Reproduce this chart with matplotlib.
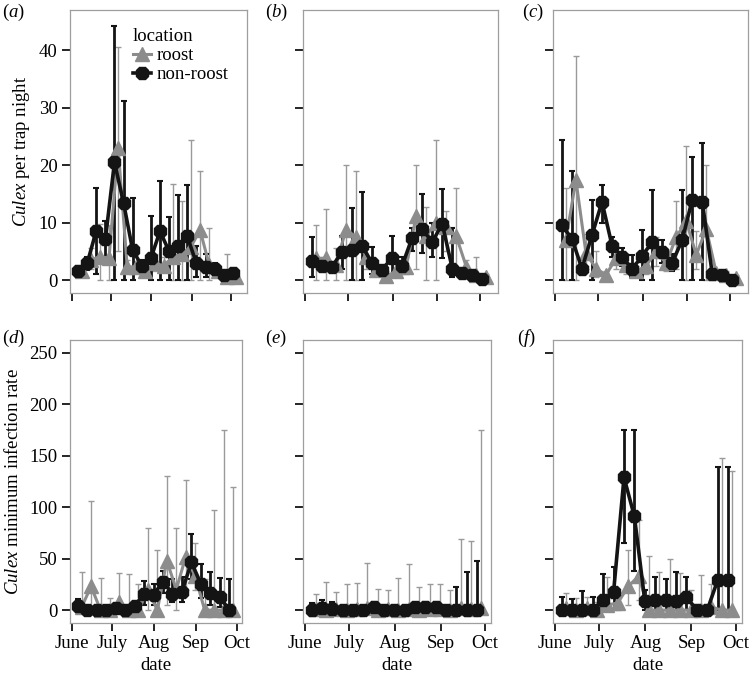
import numpy as np
import matplotlib
matplotlib.use('Agg')
import matplotlib.pyplot as plt

plt.rcParams['font.family'] = ['Liberation Serif', 'DejaVu Serif']
plt.rcParams['mathtext.fontset'] = 'custom'
plt.rcParams['mathtext.rm'] = 'Liberation Serif'
plt.rcParams['mathtext.it'] = 'Liberation Serif:italic'

# sampling dates, days since 1 June
day_top = [6, 13, 20, 27, 34, 41, 48, 55, 62, 69, 76, 83, 90, 97, 104, 111, 118, 125]
day_bot = [6, 13, 20, 27, 34, 41, 48, 55, 62, 69, 76, 83, 90, 97, 104, 111, 118]

month_day = [0, 30, 61, 92, 122]
month_lab = ['June', 'July', 'Aug', 'Sep', 'Oct']

# (a) abundance
nr_a    = [1.6, 2.9, 8.6, 7.1, 20.5, 13.4, 5.2, 2.5, 3.8, 8.5, 5.0, 6.0, 7.6, 2.9, 2.3, 1.9, 0.9, 1.3]
nr_a_hi = [2.5, 4.0, 16.0, 10.2, 44.3, 31.2, 14.2, 3.5, 11.2, 17.3, 11.0, 14.8, 16.6, 6.0, 4.5, 3.0, 1.5, 2.0]
nr_a_lo = [1.0, 1.8, 1.0, 4.0, 0.0, 0.0, 0.0, 1.5, 0.0, 0.0, 0.0, 0.0, 0.0, 0.5, 0.5, 0.8, 0.3, 0.5]
r_a     = [1.5, 3.5, 4.1, 3.8, 23.0, 2.3, 2.3, 1.5, 2.9, 2.5, 4.0, 4.5, 5.8, 8.7, 2.7, 1.5, 0.6, 0.5]
r_a_hi  = [2.5, 5.5, 9.8, 9.5, 40.6, 3.5, 3.2, 2.3, 4.5, 4.0, 16.7, 13.8, 24.4, 18.9, 9.0, 2.5, 4.5, 1.0]
r_a_lo  = [0.8, 2.0, 0.0, 0.0, 5.0, 1.5, 1.5, 0.8, 1.5, 1.5, 0.0, 0.0, 0.0, 0.0, 0.0, 0.8, 0.0, 0.0]

# (b)
nr_b    = [3.4, 2.5, 2.3, 4.9, 5.3, 6.0, 2.9, 1.8, 3.9, 2.5, 7.4, 8.9, 6.6, 9.8, 2.0, 1.2, 0.8, 0.1]
nr_b_hi = [7.5, 3.5, 3.0, 7.7, 12.5, 15.3, 5.7, 2.5, 7.6, 4.0, 9.0, 15.0, 10.0, 15.8, 9.0, 2.0, 1.5, 0.5]
nr_b_lo = [0.5, 1.5, 1.5, 2.0, 0.0, 0.0, 1.0, 1.0, 1.0, 1.0, 5.0, 4.7, 4.0, 3.8, 0.5, 0.5, 0.3, 0.0]
r_b     = [3.8, 3.8, 2.6, 8.8, 7.5, 4.1, 1.8, 0.7, 1.5, 2.3, 11.2, 7.7, 10.0, 9.2, 7.6, 2.3, 0.9, 0.5]
r_b_hi  = [9.6, 12.3, 5.5, 20.0, 18.9, 6.0, 2.5, 1.5, 3.0, 4.0, 20.0, 12.8, 24.3, 12.0, 16.1, 3.5, 4.0, 1.0]
r_b_lo  = [0.0, 0.0, 0.0, 0.0, 0.0, 2.0, 0.8, 0.2, 0.5, 1.0, 2.0, 0.0, 0.0, 5.0, 1.0, 1.0, 0.0, 0.0]

# (c)
nr_c    = [9.5, 7.2, 2.0, 7.8, 13.6, 6.0, 4.1, 1.9, 4.2, 6.6, 4.9, 3.0, 7.0, 14.0, 13.6, 1.0, 0.9, 0.0]
nr_c_hi = [24.4, 19.0, 3.0, 13.9, 16.5, 7.5, 5.5, 4.3, 8.8, 15.6, 7.0, 4.5, 15.6, 21.5, 23.8, 2.0, 1.5, 0.5]
nr_c_lo = [0.0, 0.0, 1.0, 0.0, 10.0, 4.0, 2.5, 0.5, 0.0, 0.0, 3.0, 1.5, 0.0, 0.0, 0.0, 0.5, 0.5, 0.0]
r_c     = [7.0, 17.4, 4.7, 2.0, 0.9, 3.8, 2.6, 1.5, 2.5, 5.0, 2.9, 7.5, 10.2, 4.4, 8.9, 1.2, 0.9, 0.3]
r_c_hi  = [16.0, 39.0, 8.0, 5.0, 1.5, 6.0, 4.5, 2.5, 4.0, 7.5, 5.0, 13.8, 23.3, 8.5, 20.0, 2.0, 1.5, 0.8]
r_c_lo  = [0.0, 0.0, 2.0, 0.5, 0.3, 2.0, 1.0, 0.5, 1.0, 2.5, 1.5, 2.0, 0.0, 2.0, 0.0, 0.5, 0.3, 0.0]

# (d) minimum infection rate
nr_d    = [4, 0, 0, 0, 1.6, 0, 4, 16, 15, 27.7, 16, 18, 46.6, 25, 17, 13, 0]
nr_d_hi = [11, 3, 3, 3, 6, 3, 8, 28, 25, 38, 30, 32, 74, 45, 37, 31, 30]
nr_d_lo = [0, 0, 0, 0, 0, 0, 0, 5, 5, 17, 8, 8, 30, 12, 5, 3, 0]
r_d     = [3, 23, 0, 0, 8, 0, 0, 20, 0, 48, 20, 52, 33, 0, 0, 0, 0]
r_d_hi  = [37, 106, 31, 12, 36, 35, 25, 80, 58, 130, 80, 126, 65, 30, 97, 175, 120]
r_d_lo  = [0, 0, 0, 0, 0, 0, 0, 0, 0, 5, 0, 20, 20, 0, 0, 0, 0]

# (e)
nr_e    = [0, 2, 1, 0, 0, 0, 3, 0, 0, 0, 3, 3, 3, 0, 0, 0, 0]
nr_e_hi = [7, 10, 8, 4, 4, 4, 8, 4, 4, 4, 4, 8, 8, 4, 22, 37, 48]
nr_e_lo = [0, 0, 0, 0, 0, 0, 0, 0, 0, 0, 0, 0, 0, 0, 0, 0, 0]
r_e     = [1, 0, 1, 0, 1, 2, 0, 1, 0, 1, 0, 1, 1, 0, 2, 1, 2]
r_e_hi  = [16, 27, 18, 25, 26, 46, 21, 20, 31, 45, 22, 25, 25, 20, 69, 67, 175]
r_e_lo  = [0, 0, 0, 0, 0, 0, 0, 0, 0, 0, 0, 0, 0, 0, 0, 0, 0]

# (f)
nr_f    = [0, 0, 0, 0, 10, 18, 129, 91, 9, 10, 10, 9, 13, 0, 0, 29, 29]
nr_f_hi = [13, 11, 19, 13, 35, 42, 175, 175, 20, 32, 30, 37, 32, 5, 5, 139, 139]
nr_f_lo = [0, 0, 0, 0, 0, 0, 65, 38, 0, 0, 0, 0, 0, 0, 0, 0, 0]
r_f     = [2, 0, 2, 0, 5, 7, 23, 33, 0, 0, 0, 0, 0, 0, 3, 0, 0]
r_f_hi  = [17, 12, 13, 8, 32, 15, 58, 88, 53, 37, 50, 36, 20, 34, 25, 148, 135]
r_f_lo  = [0, 0, 0, 0, 0, 0, 5, 10, 0, 0, 0, 0, 0, 0, 0, 0, 0]

W, H = 752, 678
fig = plt.figure(figsize=(W / 100, H / 100), dpi=100)

def rect(l, t, r, b):
    return [l / W, 1 - b / H, (r - l) / W, (b - t) / H]

panels = [
    ('a', rect(70, 10, 247, 293), day_top, r_a, r_a_lo, r_a_hi, nr_a, nr_a_lo, nr_a_hi, 0),
    ('b', rect(303, 10, 498, 293), day_top, r_b, r_b_lo, r_b_hi, nr_b, nr_b_lo, nr_b_hi, 0),
    ('c', rect(553, 10, 748, 293), day_top, r_c, r_c_lo, r_c_hi, nr_c, nr_c_lo, nr_c_hi, 0),
    ('d', rect(70, 340, 242, 623), day_bot, r_d, r_d_lo, r_d_hi, nr_d, nr_d_lo, nr_d_hi, 1),
    ('e', rect(303, 340, 491, 623), day_bot, r_e, r_e_lo, r_e_hi, nr_e, nr_e_lo, nr_e_hi, 1),
    ('f', rect(553, 340, 742, 623), day_bot, r_f, r_f_lo, r_f_hi, nr_f, nr_f_lo, nr_f_hi, 1),
]

gray = '#8c8c8c'
black = '#141414'
fs = 13.5

for tag, pos, day, r, rlo, rhi, nr, nrlo, nrhi, row in panels:
    ax = fig.add_axes(pos)
    d = np.array(day, float)
    r = np.array(r, float); nr = np.array(nr, float)
    rlo = np.minimum(np.array(rlo, float), r); rhi = np.maximum(np.array(rhi, float), r)
    nrlo = np.minimum(np.array(nrlo, float), nr); nrhi = np.maximum(np.array(nrhi, float), nr)

    ax.errorbar(d + 1.4, r, yerr=[r - rlo, rhi - r], fmt='none', ecolor='#9a9a9a',
                elinewidth=1.0, capsize=2, capthick=1.0, zorder=2)
    ax.errorbar(d - 1.4, nr, yerr=[nr - nrlo, nrhi - nr], fmt='none', ecolor=black,
                elinewidth=2.0, capsize=2, capthick=1.5, zorder=3)
    lr, = ax.plot(d + 1.4, r, color=gray, lw=2.2, marker='^', ms=10, mec=gray, zorder=4)
    lnr, = ax.plot(d - 1.4, nr, color=black, lw=2.6, marker='8', ms=10, mec=black, zorder=5)

    if row == 0:
        ax.set_xlim(-1.6, 134.5)
        ax.set_ylim(-2.25, 47)
        ax.set_yticks([0, 10, 20, 30, 40])
    else:
        ax.set_xlim(-1.2, 126)
        ax.set_ylim(-12.5, 262.5)
        ax.set_yticks([0, 50, 100, 150, 200, 250])
        ax.set_xlabel('date', fontsize=fs, labelpad=3)
    ax.set_xticks(month_day)
    ax.set_xticklabels(month_lab if row == 1 else [])
    if tag not in ('a', 'd'):
        ax.set_yticklabels([])

    for s in ax.spines.values():
        s.set_color('#9e9e9e')
        s.set_linewidth(0.9)
    ax.tick_params(direction='out', length=6, width=1.2, color='black',
                   labelsize=fs, pad=3)

    if tag == 'a':
        ax.set_ylabel(r'$\it{Culex}$ per trap night', fontsize=fs, labelpad=5)
        ax.legend([lr, lnr], ['roost', 'non-roost'], title='location', loc='upper left',
                  bbox_to_anchor=(0.29, 0.975), frameon=False, fontsize=fs,
                  title_fontsize=fs, handlelength=1.0, handletextpad=0.3,
                  labelspacing=0.1, borderaxespad=0.2, alignment='left')
    if tag == 'd':
        ax.set_ylabel(r'$\it{Culex}$ minimum infection rate', fontsize=fs, labelpad=5)

    tx = {'a': 2, 'b': 265, 'c': 522, 'd': 2, 'e': 265, 'f': 517}[tag]
    ty = 12 if row == 0 else 338
    fig.text(tx / W, 1 - ty / H, '(' + r'$\it{' + tag + '}$' + ')', fontsize=fs,
             va='center', ha='left')

fig.savefig('out.png', dpi=100)
